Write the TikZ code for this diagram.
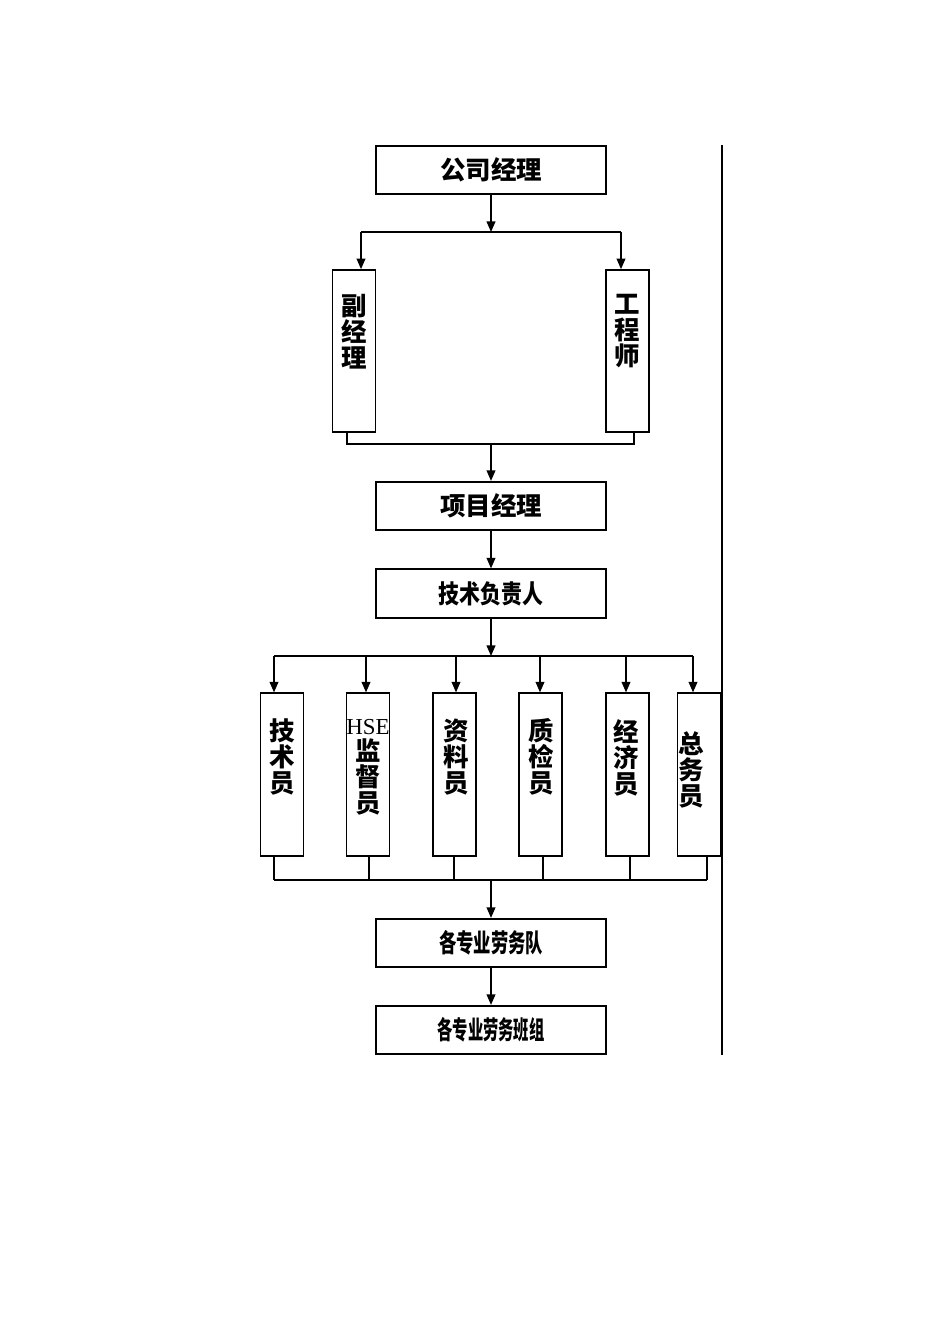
\documentclass[tikz,border=0pt]{standalone}
\usepackage{fontspec}
\setmainfont{Liberation Serif}
\newfontfamily\cjk{Noto Sans CJK SC}
\usetikzlibrary{positioning,arrows.meta}

\begin{document}
\begin{tikzpicture}[x=0.02cm, y=-0.02cm, line width=0.8pt,
      >={Triangle[length=6pt,width=5pt]},
      box/.style={rectangle, draw, line width=1pt, minimum width=4.6cm,
                  minimum height=0.97cm, inner sep=0pt,
                  font=\cjk\bfseries\fontsize{14.5}{15}\selectfont},
      vbox/.style={rectangle, draw, line width=1pt, minimum width=0.86cm,
                   minimum height=3.25cm, inner sep=0pt},
      vtext/.style={anchor=north, align=center, inner sep=0pt,
                    font=\cjk\bfseries\fontsize{14.5}{14.8}\selectfont}]
    \useasboundingbox (0,0) rectangle (950,1344);
    % main chain
    \node[box] (gm) at (491,170) {公司经理};
    \node[vbox, minimum height=3.24cm] (dep) at (354,351) {};
    \node[vbox, minimum height=3.24cm] (eng) at (627.5,351) {};
    \node[vtext] (deptext) at (354,294) {副\\经\\理};
    \node[vtext] (engtext) at (627,294) {工\\程\\师};
    \node[box] (pm) at (491,506) {项目经理};
    \node[box] (tech) at (491,593.5) {\scalebox{0.82}[1]{技术负责人}};
    % staff
    \node[vbox] (s1) at (282,774.5) {};
    \node[vbox] (s2) at (368,774.5) {};
    \node[vbox] (s3) at (454.5,774.5) {};
    \node[vbox] (s4) at (540.5,774.5) {};
    \node[vbox] (s5) at (627.5,774.5) {};
    \node[vbox] (s6) at (699,774.5) {};
    \node[vtext] (t1) at (282,718) {技\\术\\员};
    \node[vtext] (t2) at (368,719) {{\rmfamily\mdseries\fontsize{13}{14}\selectfont HSE}\\监\\督\\员};
    \node[vtext] (t3) at (456,718) {资\\料\\员};
    \node[vtext] (t4) at (541.5,718) {质\\检\\员};
    \node[vtext] (t5) at (626.5,719) {经\\济\\员};
    \node[vtext] (t6) at (691.5,731) {总\\务\\员};
    \node[box] (team) at (491,943) {\scalebox{0.68}[1]{各专业劳务队}};
    \node[box] (crew) at (491,1030) {\scalebox{0.6}[1]{各专业劳务班组}};

    % joints
    \coordinate (sp) at (491,232);
    \coordinate (ua) at (361,232);
    \coordinate (ub) at (621,232);
    \coordinate (la) at (347,444);
    \coordinate (lb) at (634,444);
    \coordinate (mj) at (491,444);
    \coordinate (bus) at (491,656);
    \coordinate (u1) at (274,656);
    \coordinate (u2) at (366,656);
    \coordinate (u3) at (456,656);
    \coordinate (u4) at (540,656);
    \coordinate (u5) at (626,656);
    \coordinate (u6) at (693,656);
    \coordinate (l1) at (274,880);
    \coordinate (l2) at (369,880);
    \coordinate (l3) at (454,880);
    \coordinate (l4) at (543,880);
    \coordinate (l5) at (630,880);
    \coordinate (l6) at (707,880);
    \coordinate (lm) at (491,880);

    \draw[->] (gm) -- (sp);
    \draw (ua) -- (ub);
    \draw[->] (ua) -- (ua |- dep.north);
    \draw[->] (ub) -- (ub |- eng.north);
    \draw (la |- dep.south) -- (la) -- (lb) -- (lb |- eng.south);
    \draw[->] (mj) -- (pm);
    \draw[->] (pm) -- (tech);
    \draw[->] (tech) -- (bus);
    \draw (u1) -- (u6);
    \foreach \i in {1,...,6}
      \draw[->] (u\i) -- (u\i |- s\i.north);
    \foreach \i in {1,...,6}
      \draw (l\i |- s\i.south) -- (l\i);
    \draw (l1) -- (l6);
    \draw[->] (lm) -- (team);
    \draw[->] (team) -- (crew);
    % right rule
    \draw (722,145) -- (722,1055);
  \end{tikzpicture}
\end{document}
